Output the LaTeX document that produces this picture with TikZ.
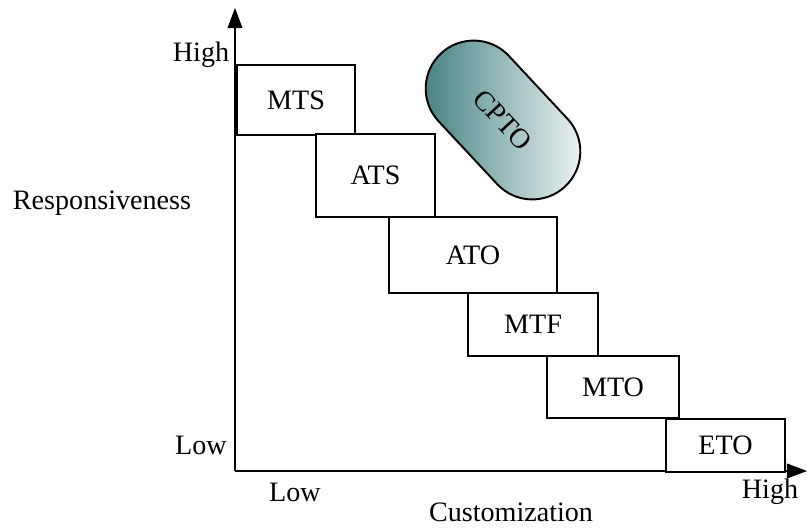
\documentclass[tikz,border=0pt]{standalone}
\usepackage{fontspec}
\setmainfont{Liberation Serif}
\usetikzlibrary{arrows.meta, positioning}
\definecolor{box-border}{HTML}{000000}
\definecolor{capsule-dark}{HTML}{347676}
\tikzset{
  strategy-box/.style={
    draw=box-border, line width=1.1pt, fill=white, align=center,
    font=\fontsize{16}{19}\selectfont, inner sep=0pt
  },
  axis-line/.style={line width=0.6pt, -{Triangle[length=11.5pt, width=8.5pt]}},
  axis-label/.style={font=\fontsize{16}{19}\selectfont, inner sep=0pt}
}

\begin{document}
\begin{tikzpicture}[x=0.02cm, y=-0.02cm]
  \useasboundingbox (0,0) rectangle (807,527);

  % axes
  \coordinate (origin) at (235,471);
  \coordinate (ytip)   at (235,8);
  \coordinate (xtip)   at (807,471);
  \draw[axis-line] (origin) -- (ytip);
  \draw[axis-line] (origin) -- (xtip);

  \node[axis-label] (yhigh) at (201,55)  {High};
  \node[axis-label] (ylow)  at (201,445) {Low};
  \node[axis-label] (ytext) at (102,203) {Responsiveness};
  \node[axis-label] (xlow)  at (295,492) {Low};
  \node[axis-label] (xhigh) at (770,492) {High};
  \node[axis-label] (xtext) at (511,512) {Customization};

  % staircase of strategies
  \node[strategy-box, minimum width=2.36cm, minimum height=1.40cm] (mts) at (296,100)   {MTS};
  \node[strategy-box, minimum width=2.38cm, minimum height=1.66cm] (ats) at (375.5,175.5) {ATS};
  \node[strategy-box, minimum width=3.36cm, minimum height=1.52cm] (ato) at (473,255)   {ATO};
  \node[strategy-box, minimum width=2.60cm, minimum height=1.26cm] (mtf) at (533,324.5) {MTF};
  \node[strategy-box, minimum width=2.64cm, minimum height=1.24cm] (mto) at (613,387)   {MTO};
  \node[strategy-box, minimum width=2.38cm, minimum height=1.06cm] (eto) at (725.5,445.5) {ETO};

  % CPTO capsule
  \node[draw, line width=1.1pt, rounded corners=0.96cm,
        minimum width=3.64cm, minimum height=1.92cm,
        left color=capsule-dark, right color=white,
        rotate=-47, font=\fontsize{16}{19}\selectfont] (cpto) at (503,120) {CPTO};
\end{tikzpicture}
\end{document}
